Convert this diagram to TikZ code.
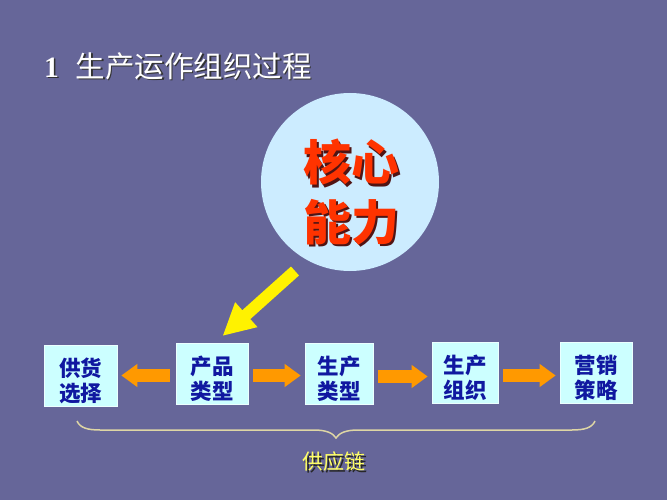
\documentclass[tikz,border=0pt]{standalone}
\usepackage{fontspec}
\newfontfamily\cjk{Noto Sans CJK SC}
\newfontfamily\tnr{Liberation Serif}
\usetikzlibrary{arrows.meta}
\definecolor{bg}{RGB}{102,102,153}
\definecolor{boxfill}{RGB}{204,255,255}
\definecolor{boxtext}{RGB}{16,24,160}
\definecolor{circfill}{RGB}{204,236,255}
\definecolor{coretext}{RGB}{255,51,0}
\definecolor{coreshadow}{RGB}{80,20,20}
\definecolor{orangearrow}{RGB}{255,153,0}
\definecolor{bracecol}{RGB}{222,214,165}
\definecolor{chaintext}{RGB}{255,255,102}
\newcommand{\boxstrut}{\rule{0pt}{29pt}}
\tikzset{
  stagebox/.style={draw=white!60!boxfill, line width=0.6pt, fill=boxfill, minimum height=61pt,
    inner sep=0pt, align=center, text=boxtext,
    font=\cjk\bfseries\fontsize{21.5}{25}\selectfont},
  flowarrow/.style={draw=orangearrow, line width=13pt, -{Triangle[width=22pt,length=16pt]},
    shorten <=5pt, shorten >=4pt},
  corearrow/.style={draw=yellow, line width=12pt, -{Triangle[width=31pt,length=32pt]}},
  coretxt/.style={inner sep=0pt, font=\cjk\bfseries\fontsize{48}{52}\selectfont},
  titletxt/.style={inner sep=0pt, anchor=west, font=\fontsize{29.5}{32}\selectfont},
  chaintxt/.style={inner sep=0pt, font=\cjk\fontsize{21}{25}\selectfont},
  bracestyle/.style={draw=bracecol, line width=1.5pt}
}
\begin{document}
\begin{tikzpicture}[x=1pt,y=-1pt]
\useasboundingbox (0,0) rectangle (667,500);
\fill[bg] (0,0) rectangle (667,500);

% title with shadow
\node[titletxt, text=black!80] (titleshadow) at (45.5,67.5) {{\tnr\bfseries 1}\hspace{17pt}{\cjk 生产运作组织过程}};
\node[titletxt, text=white] (title) at (44,66) {{\tnr\bfseries 1}\hspace{17pt}{\cjk 生产运作组织过程}};

% core circle
\node[circle, fill=circfill, minimum size=178pt, inner sep=0pt] (core) at (350,182) {};
\node[coretxt, text=coreshadow] (t1s) at (353.5,164.5) {核心};
\node[coretxt, text=coretext] (t1) at (351,162) {核心};
\node[coretxt, text=coreshadow] (t2s) at (353.5,224.5) {能力};
\node[coretxt, text=coretext] (t2) at (351,222) {能力};

% stage boxes
\node[stagebox, minimum width=73pt] (b1) at (80.5,375.5) {\boxstrut 供货\\选择};
\node[stagebox, minimum width=72pt] (b2) at (212,373.5) {\boxstrut 产品\\类型};
\node[stagebox, minimum width=68pt] (b3) at (339,373.5) {\boxstrut 生产\\类型};
\node[stagebox, minimum width=66pt] (b4) at (465,372.5) {\boxstrut 生产\\组织};
\node[stagebox, minimum width=72pt] (b5) at (596,372.5) {\boxstrut 营销\\策略};

% orange flow arrows
\draw[flowarrow, shorten <=6pt, shorten >=4pt] ([yshift=-2pt]b2.west) -- ([yshift=-2pt]b2.west -| b1.east);
\draw[flowarrow] ([yshift=-2pt]b2.east) -- ([yshift=-2pt]b2.east -| b3.west);
\draw[flowarrow] ([yshift=-3pt]b3.east) -- ([yshift=-3pt]b3.east -| b4.west);
\draw[flowarrow] ([yshift=-3pt]b4.east) -- ([yshift=-3pt]b4.east -| b5.west);

% yellow arrow from core to product type
\coordinate (ytail) at (295,271);
\coordinate (ytip) at (222.5,336);
\draw[corearrow] (ytail) -- (ytip);

% brace
\draw[bracestyle] (77,421) .. controls (80,428) and (88,430) .. (100,430) -- (314,430)
  .. controls (326,430) and (333,433) .. (336,438)
  .. controls (339,433) and (346,430) .. (358,430) -- (572,430)
  .. controls (584,430) and (592,428) .. (595,421);

% supply chain label
\node[chaintxt, text=black!85] (scs) at (335.5,463.5) {供应链};
\node[chaintxt, text=chaintext] (sc) at (334,462) {供应链};
\end{tikzpicture}
\end{document}
